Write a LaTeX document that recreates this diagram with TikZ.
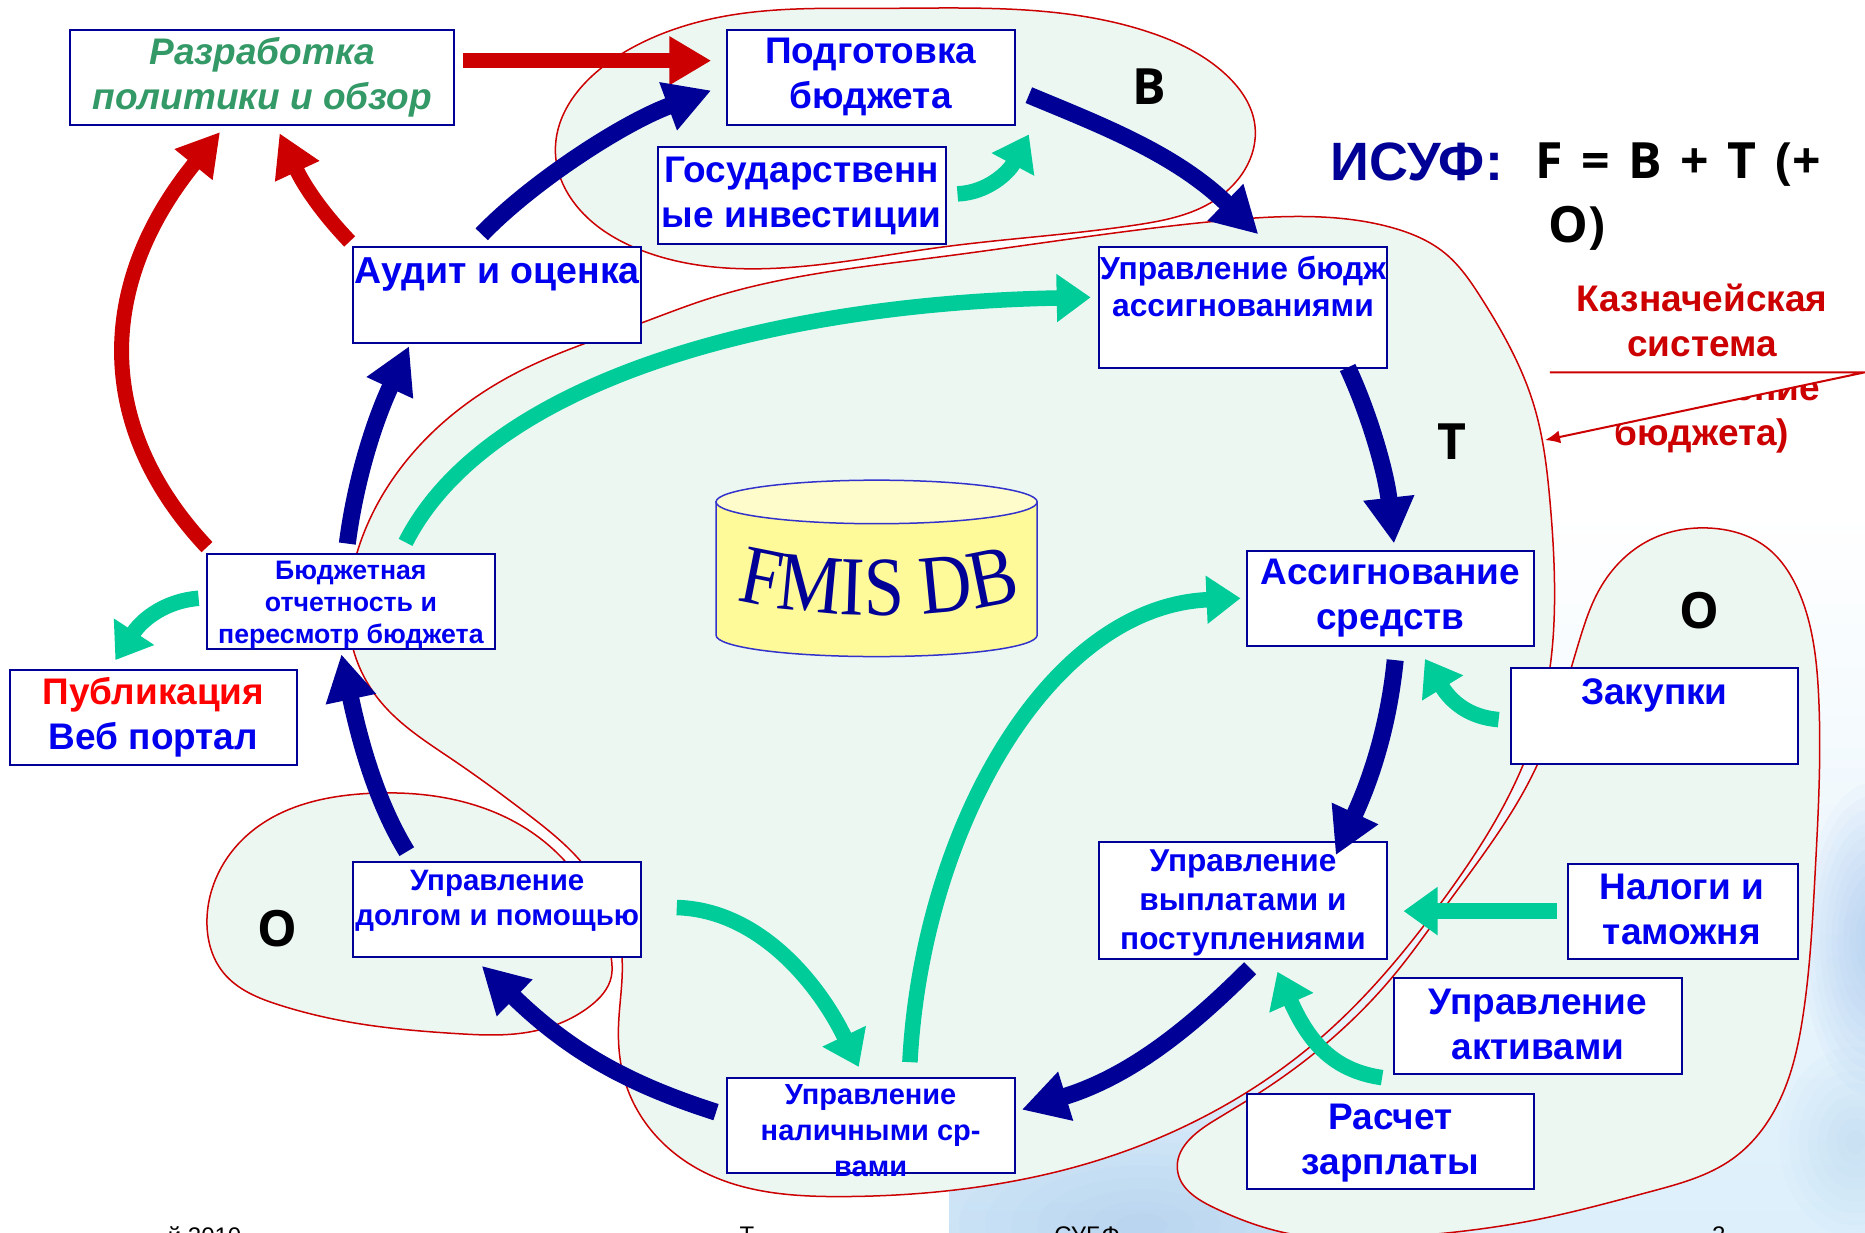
\documentclass[tikz,border=0pt]{standalone}
\usepackage{fontspec}
\setmainfont{Liberation Sans}
\newfontfamily\lblfont{Open Sans}
\newfontfamily\fmisfont[FakeStretch=0.86]{Liberation Serif}
\usetikzlibrary{arrows.meta,decorations.text,calc,hobby}
\definecolor{boxblue}{HTML}{0000EE}
\definecolor{navyc}{HTML}{000096}
\definecolor{greenc}{HTML}{00CC99}
\definecolor{redc}{HTML}{CC0000}
\definecolor{blobc}{HTML}{ECF7F2}
\definecolor{policyc}{HTML}{339966}
\definecolor{cylline}{HTML}{3333CC}
\definecolor{washa}{HTML}{DCEFFB}
\definecolor{washb}{HTML}{8FB8EC}
\tikzset{
 x=1.18941pt,y=-1.18941pt,
 blob/.style={draw=redc,line width=1.5pt,fill=blobc,use Hobby shortcut,closed=true},
 boxn/.style={draw=navyc,line width=2pt,fill=white,inner sep=0pt,outer sep=0pt},
 navyflow/.style={draw=navyc,line width=17pt,-{Triangle[width=48pt,length=46pt]}},
 greenflow/.style={draw=greenc,line width=15.5pt,-{Triangle[width=46pt,length=34pt]}},
 redflow/.style={draw=redc,line width=15pt,-{Triangle[width=46pt,length=42pt]}},
 bl/.style={font=\bfseries,text=boxblue,align=center,inner sep=0pt},
 letterl/.style={font=\lblfont\bfseries\fontsize{50}{56}\selectfont,text=black,inner sep=0pt,align=center},
}
\newcommand{\bx}[5]{\node[boxn,minimum width={(#4-#2)*1.18941pt},minimum height={(#5-#3)*1.18941pt}] (#1) at ({(#2+#4)/2},{(#3+#5)/2}) {};}
\newcommand{\tx}[6]{\node[bl,font=\bfseries\fontsize{#4}{#5}\selectfont] (#1) at (#2,#3) {#6};}
\begin{document}
\begin{tikzpicture}
\useasboundingbox (0,0) rectangle (1568,1035.8);
\clip (0,0) rectangle (1568,1035.8);
\fill[white] (0,0) rectangle (1568,1035.8);
% background wash
\shade[top color=white,bottom color=washa] (798,430) rectangle (1568,1035.8);
\begin{scope}
\clip (798,430) rectangle (1568,1035.8);
\foreach \r in {1,...,12} {\fill[washb,opacity=.05] (1575,790) ellipse [x radius=5*\r,y radius=11*\r];}
\foreach \r in {1,...,12} {\fill[washb,opacity=.04] (960,1030) ellipse [x radius=22*\r,y radius=10*\r];}
\foreach \r in {1,...,8} {\fill[washb,opacity=.03] (1560,960) ellipse [x radius=8*\r,y radius=10*\r];}
\end{scope}
% blobs
\draw[blob] (1093,182) .. (1169,191) .. (1215,213) .. (1245,250) .. (1290,342) .. (1303,420) .. (1307,499) .. (1300,580) .. (1281,642) .. (1213,757) .. (1111,872) .. (1012,939) .. (931,973) .. (841,995) .. (710,1006) .. (589,984) .. (527,914) .. (520,863) .. (523,806) .. (489,725) .. (443,684) .. (381,639) .. (320,590) .. (297,546) .. (301,462) .. (361,366) .. (437,312) .. (538,272) .. (593,252) .. (790,216) .. (1022,186);
\draw[blob] (740,7) .. (619,12) .. (523,45) .. (467,129) .. (488,177) .. (538,210) .. (629,226) .. (790,208) .. (956,189) .. (1017,171) .. (1055,105) .. (1031,63) .. (966,27);
\draw[blob] (174,773) .. (208,702) .. (311,667) .. (389,674) .. (446,699) .. (476,725) .. (514,806) .. (514,821) .. (496,846) .. (443,868) .. (384,869) .. (292,859) .. (235,845) .. (188,818);
\draw[blob] (1438,444) .. (1485,460) .. (1513,499) .. (1529,585) .. (1526,735) .. (1516,853) .. (1499,919) .. (1457,974) .. (1387,1002) .. (1289,1026) .. (1177,1040) .. (1088,1038) .. (1020,1015) .. (990,984) .. (1021,942) .. (1060,918) .. (1171,821) .. (1216,761) .. (1292,644) .. (1328,538) .. (1345,495) .. (1387,454);
% boxes
\bx{policy}{59}{25}{382}{105}
\bx{prep}{611}{25}{853}{105}
\bx{inv}{553}{124}{795}{205}
\bx{audit}{297}{208}{539}{288}
\bx{allot}{924}{208}{1166}{309}
\bx{report}{174}{466}{416}{546}
\bx{pub}{8}{563}{250}{643}
\bx{assign}{1048}{463}{1290}{543}
\bx{proc}{1270}{562}{1512}{642}
\bx{tax}{1318}{726}{1512}{806}
\bx{asset}{1172}{822}{1414}{903}
\bx{pay}{1048}{920}{1290}{1000}
\bx{disb}{924}{708}{1166}{806}
\bx{cash}{611}{906}{853}{986}
\bx{debt}{297}{725}{539}{805}
% box texts
\node[bl,text=policyc,font=\bfseries\itshape\fontsize{37}{45}\selectfont] (policyT) at (220.5,65) {Разработка\\политики и обзор};
\tx{prepT}{732}{65}{37}{45}{Подготовка\\бюджета}
\tx{invT}{674}{165}{37}{45}{Государственн\\ые инвестиции}
\tx{auditT}{418}{231}{37.5}{45}{Аудит и оценка}
\tx{allotT}{1045}{241}{31.8}{37}{Управление бюдж\\ассигнованиями}
\tx{reportT}{295}{509}{26.7}{32}{Бюджетная\\отчетность и\\пересмотр бюджета}
\node[bl,font=\bfseries\fontsize{37}{45}\selectfont] (pubT) at (129,603) {\textcolor{red}{Публикация}\\Веб портал};
\tx{assignT}{1169}{503}{37}{45}{Ассигнование\\средств}
\tx{procT}{1391}{585}{37}{45}{Закупки}
\tx{taxT}{1414}{765}{37}{45}{Налоги и\\таможня}
\tx{assetT}{1293}{861}{37}{45}{Управление\\активами}
\tx{payT}{1169}{961}{37}{45}{Расчет\\зарплаты}
\tx{disbT}{1045}{759}{31.6}{39}{Управление\\выплатами и\\поступлениями}
\tx{cashT}{732}{951}{29}{36}{Управление\\наличными ср-\\вами}
\tx{debtT}{418}{757}{29.5}{35}{Управление\\долгом и помощью}
% cylinder
\draw[cylline,line width=1.5pt,fill=yellow!40!white] (602,422) -- (602,534) .. controls (602,544) and (660,552) .. (737,552) .. controls (814,552) and (872,544) .. (872,534) -- (872,422) -- cycle;
\draw[cylline,line width=1.5pt,fill=yellow!20!white] (737,422) ellipse [x radius=135,y radius=18.3];
\path[decorate,decoration={text along path,text align=center,text={|\fmisfont\fontsize{84}{86}\selectfont\color{navyc}|FMIS DB}}] (614,503) .. controls (680,522) and (800,522) .. (864,502);
% connectors
\draw[redflow] ([shift={(168.5,-14)}]policy.center) -- ([shift={(-134,-14)}]prep.center);
\draw[navyflow] ([shift={(-13,-51)}]audit.center) .. controls (445,155) and (522,104) .. ([shift={(-134,11)}]prep.center);
\draw[navyflow] ([shift={(133,15)}]prep.center) .. controls (925,105) and (988,129) .. ([shift={(13,-61.5)}]allot.center);
\draw[greenflow] ([shift={(131,-1.5)}]inv.center) .. controls (830,162) and (848,145) .. ([shift={(133,48)}]prep.center);
\draw[navyflow] ([shift={(-3,-49)}]report.center) .. controls (298,410) and (312,360) .. ([shift={(-74,43)}]audit.center);
\draw[greenflow] ([shift={(46,-50)}]report.center) .. controls (410,320) and (650,255) .. ([shift={(-128,-8.5)}]allot.center);
\draw[navyflow] ([shift={(88,50.5)}]allot.center) .. controls (1150,345) and (1165,395) .. ([shift={(3,-46)}]assign.center);
\draw[navyflow] ([shift={(4,52)}]assign.center) .. controls (1168,605) and (1155,650) .. ([shift={(78,-38)}]disb.center);
\draw[navyflow] ([shift={(6,57)}]disb.center) .. controls (1000,865) and (950,905) .. ([shift={(127,-13)}]cash.center);
\draw[navyflow] ([shift={(-130,-11)}]cash.center) .. controls (530,912) and (480,885) .. ([shift={(-13,47)}]debt.center);
\draw[navyflow] ([shift={(-76,-49)}]debt.center) .. controls (320,680) and (305,635) .. ([shift={(-8,44)}]report.center);
\draw[redflow] ([shift={(-121,-46)}]report.center) .. controls (80,360) and (80,240) .. ([shift={(-35.5,46)}]policy.center);
\draw[redflow] ([shift={(-124,-45)}]audit.center) .. controls (270,178) and (255,155) .. ([shift={(14.5,47)}]policy.center);
\draw[greenflow] ([shift={(-128,-3)}]report.center) .. controls (140,505) and (120,520) .. ([shift={(-32,-48)}]pub.center);
\draw[greenflow] ([shift={(33,-53)}]cash.center) .. controls (775,700) and (880,510) .. ([shift={(-126,0)}]assign.center);
\draw[greenflow] ([shift={(151,-2)}]debt.center) .. controls (640,765) and (690,830) .. ([shift={(-10,-49)}]cash.center);
\draw[greenflow] ([shift={(-131,3)}]proc.center) .. controls (1235,603) and (1220,590) .. ([shift={(29,51)}]assign.center);
\draw[greenflow] ([shift={(-106,0)}]tax.center) -- ([shift={(135,9)}]disb.center);
\draw[greenflow] ([shift={(-7,-54)}]pay.center) .. controls (1120,900) and (1100,875) .. ([shift={(29,60)}]disb.center);
% right-hand texts
\node[inner sep=0pt,font=\bfseries\fontsize{54}{56}\selectfont,text=navyc] (isuf) at (1191,136) {ИСУФ:};
\node[letterl] (formula) at (1411,138) {\spaceskip=.37em F = B + T (+};
\node[letterl] (formulab) at (1326,192) {O)};
\node[inner sep=0pt,align=center,font=\bfseries\fontsize{37}{45}\selectfont,text=redc] (tsys) at (1431,269) {Казначейская\\система};
\node[inner sep=0pt,align=center,font=\bfseries\fontsize{37}{45}\selectfont,text=redc] (texec) at (1431,348) {(Исполнение\\бюджета)};
\coordinate (wa) at (1303,313);
\coordinate (wb) at (1568,313);
\coordinate (wc) at (1299,370);
\fill[white] (wa) -- (wb) -- (wc) -- cycle;
\draw[redc,line width=2pt,-{Latex[length=15pt,width=13pt]}] (wa) -- (wb) -- (wc);
\node[letterl] (lb) at (966,73) {B};
\node[letterl] (lt) at (1221,371) {T};
\node[letterl] (lo) at (1429,513) {O};
\node[letterl] (lo2) at (233,781) {O};
% footer, cut by the page edge
\node[anchor=north,inner sep=0pt,font=\fontsize{24}{26}\selectfont] (fa) at (172,1031) {й 2010};
\node[anchor=north,inner sep=0pt,font=\fontsize{24}{26}\selectfont] (fb) at (628,1031) {Т};
\node[anchor=north,inner sep=0pt,font=\fontsize{24}{26}\selectfont] (fc) at (914,1031) {СУБФ};
\node[anchor=north,inner sep=0pt,font=\fontsize{24}{26}\selectfont] (fd) at (1445,1031) {2};
\end{tikzpicture}
\end{document}
